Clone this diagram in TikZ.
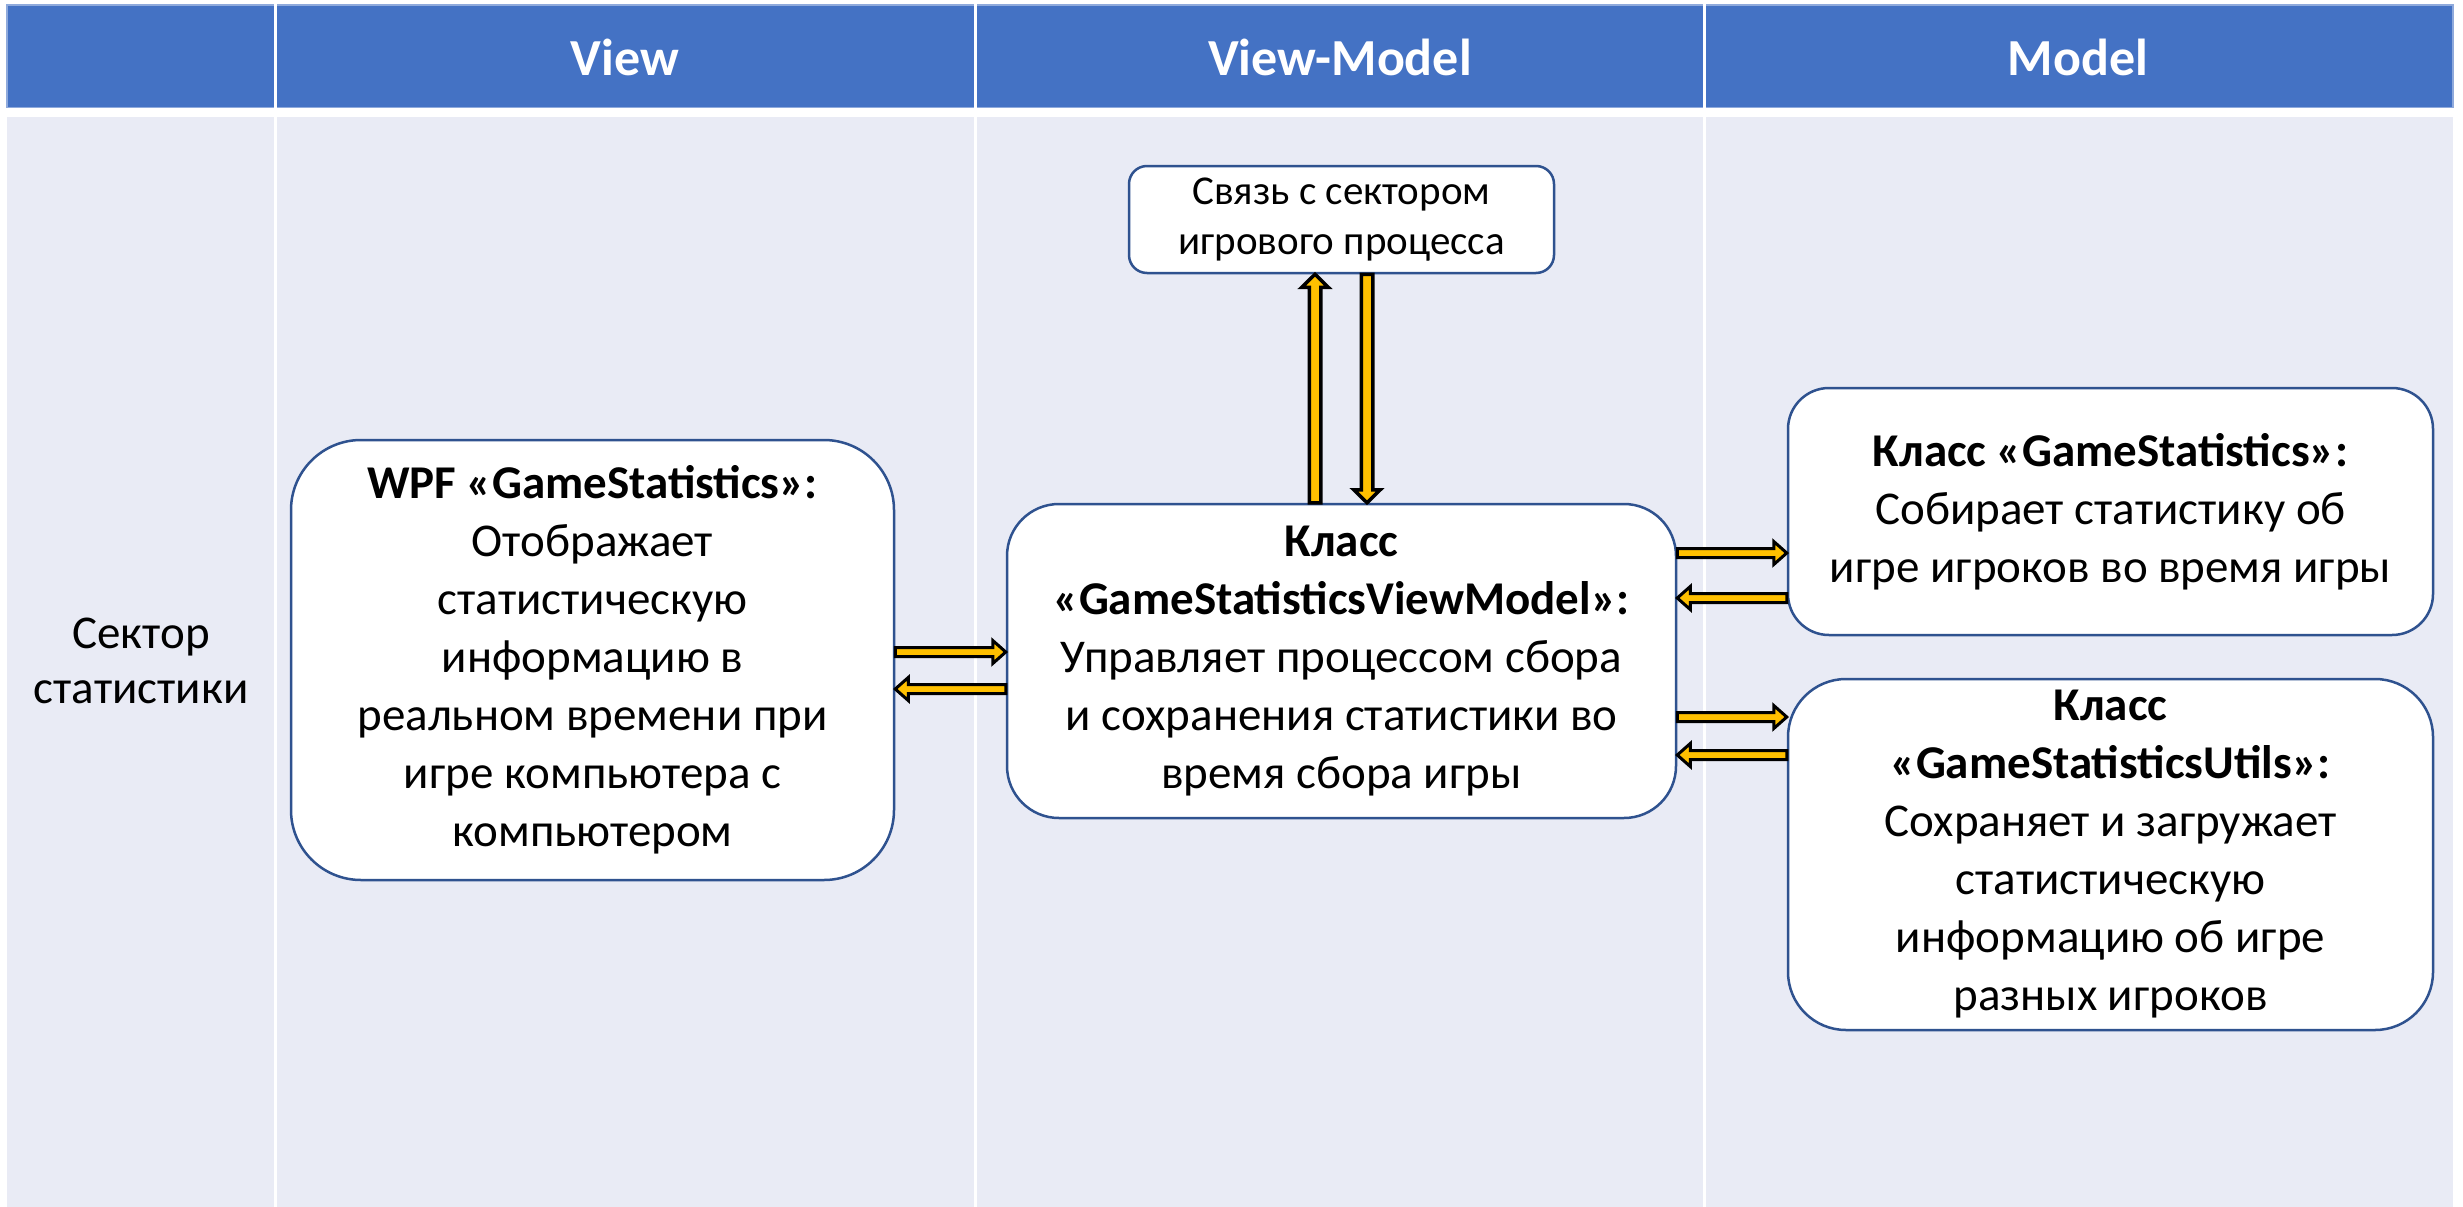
\documentclass[tikz,border=0pt]{standalone}
\usepackage{fontspec}
\setmainfont{Carlito}
\usetikzlibrary{calc}
\definecolor{hdrblue}{HTML}{4472C4}
\definecolor{hdredge}{HTML}{8FAADC}
\definecolor{bodyfill}{HTML}{E9EBF5}
\definecolor{boxline}{HTML}{2F528F}
\definecolor{arrowfill}{HTML}{FFC000}
\newcommand\fasw{4.5pt}
\newcommand\fahw{11.5pt}
\newcommand\fahl{13pt}
\newcommand\falw{3pt}
\newcommand\fatarrow[2]{%
  \path (#1) coordinate (fa-s) (#2) coordinate (fa-t);
  \path ($(fa-t)!\fahl!(fa-s)$) coordinate (fa-b);
  \filldraw[fatarrowstyle, line width=\falw] ($(fa-s)!\fasw!90:(fa-t)$) -- ($(fa-b)!\fasw!-90:(fa-s)$) -- ($(fa-b)!\fahw!-90:(fa-s)$) -- (fa-t) -- ($(fa-b)!\fahw!90:(fa-s)$) -- ($(fa-b)!\fasw!90:(fa-s)$) -- ($(fa-s)!\fasw!-90:(fa-t)$) -- cycle;}
\tikzset{
  box/.style={draw=boxline, line width=2.5pt, fill=white, align=center, inner sep=0pt, font=\fontsize{47}{58}\selectfont},
  hdr/.style={text=white, inner sep=0pt, font=\bfseries\fontsize{52}{62}\selectfont},
  side/.style={align=center, inner sep=0pt, font=\fontsize{47}{55}\selectfont},
  fatarrowstyle/.style={fill=arrowfill, draw=black, line join=miter},
  divider/.style={white, line width=3pt},
}
\begin{document}
\begin{tikzpicture}[x=1pt,y=-1pt]
\fill[white] (0,0) rectangle (2463,1207);
\useasboundingbox (0,0) rectangle (2463,1207);
% table
\fill[hdrblue] (7,5) rectangle (2453,108);
\draw[hdredge, line width=1.2pt] (7,5) rectangle (2453,108);
\fill[bodyfill] (7,117) rectangle (2453,1207);
\foreach \xx in {275,975,1704} {\draw[divider] (\xx,0) -- (\xx,1207);}
\draw[white, line width=9pt] (0,112.5) -- (2463,112.5);
% headers
\node[hdr] (h1) at (625,57) {View};
\node[hdr] (h2) at (1340,57) {View-Model};
\node[hdr] (h3) at (2078,57) {Model};
\node[side] (sec) at (141,661) {Сектор\\статистики};
% boxes
\node[box, minimum width=603pt, minimum height=440pt, rounded corners=70pt] (wpf) at (592.5,660)
  {\textbf{WPF «GameStatistics»:}\\Отображает\\статистическую\\информацию в\\реальном времени при\\игре компьютера с\\компьютером};
\node[box, minimum width=669pt, minimum height=314pt, rounded corners=52pt] (vm) at (1341.5,661)
  {\textbf{Класс}\\\textbf{«GameStatisticsViewModel»:}\\Управляет процессом сбора\\и сохранения статистики во\\время сбора игры};
\node[box, minimum width=425pt, minimum height=107pt, rounded corners=18pt, font=\fontsize{41}{50}\selectfont] (top) at (1341.5,219.5)
  {Связь с сектором\\игрового процесса};
\node[box, minimum width=645pt, minimum height=247pt, rounded corners=41pt] (gs) at (2110.5,511.5)
  {\textbf{Класс «GameStatistics»:}\\Собирает статистику об\\игре игроков во время игры};
\node[box, minimum width=645pt, minimum height=351pt, rounded corners=58pt] (ut) at (2110.5,854.5)
  {\textbf{Класс}\\\textbf{«GameStatisticsUtils»:}\\Сохраняет и загружает\\статистическую\\информацию об игре\\разных игроков};
% arrows
\fatarrow{$(wpf.east)+(0,-8)$}{$(vm.west |- wpf.east)+(0,-8)$}
\fatarrow{$(vm.west |- wpf.east)+(0,29)$}{$(wpf.east)+(0,29)$}
\fatarrow{$(vm.east)+(0,-108)$}{$(vm.east -| gs.west)+(0,-108)$}
\fatarrow{$(vm.east -| gs.west)+(0,-63)$}{$(vm.east)+(0,-63)$}
\fatarrow{$(vm.east)+(0,56)$}{$(vm.east -| ut.west)+(0,56)$}
\fatarrow{$(vm.east -| ut.west)+(0,94)$}{$(vm.east)+(0,94)$}
{\renewcommand\fasw{5.75pt}\renewcommand\fahw{13.25pt}\renewcommand\fahl{13pt}\renewcommand\falw{3.5pt}%
\fatarrow{$(vm.north)+(-26.5,0)$}{$(top.south)+(-26.5,0)$}
\fatarrow{$(top.south)+(25.5,0)$}{$(vm.north)+(25.5,0)$}}
\end{tikzpicture}
\end{document}
